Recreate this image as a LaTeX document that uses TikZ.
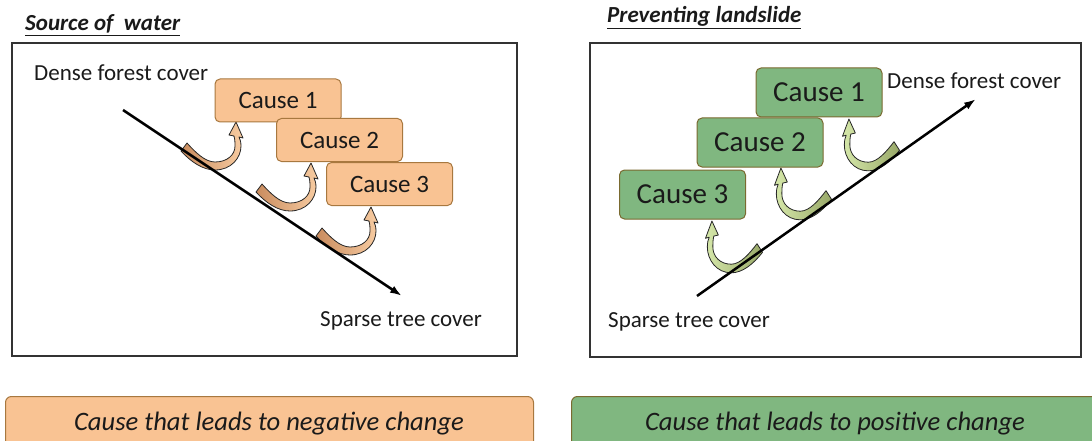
\documentclass[tikz,border=0pt]{standalone}
\usepackage{fontspec}
\setmainfont{Carlito}
\usetikzlibrary{arrows.meta}
\definecolor{orfill}{HTML}{F9C393}
\definecolor{ordraw}{HTML}{A8783F}
\definecolor{grfill}{HTML}{80B780}
\definecolor{grdraw}{HTML}{7A6A30}
\definecolor{ordark}{HTML}{C98C5E}
\definecolor{orlight}{HTML}{F8CCA2}
\definecolor{grdark}{HTML}{98A868}
\definecolor{grlight}{HTML}{D6E8AA}
\definecolor{txt}{HTML}{1A1A1A}
\tikzset{
  panel/.style={draw=black!80, line width=1.3},
  causebox/.style={rounded corners=5, line width=1, text=txt, inner sep=0},
  lcause/.style={causebox, draw=ordraw, fill=orfill, minimum width=126, minimum height=43, font=\fontsize{25}{29}\selectfont},
  rcause/.style={causebox, draw=grdraw, fill=grfill, minimum width=126, minimum height=49, font=\fontsize{29}{33}\selectfont},
  lbl/.style={anchor=base west, inner sep=0, text=txt, font=\fontsize{23}{27}\selectfont},
  ttl/.style={anchor=base west, inner sep=0, text=txt, font=\fontsize{23}{27}\selectfont\bfseries\itshape},
  legend/.style={rounded corners=6, line width=1, anchor=north west, minimum width=528, minimum height=60},
  legtxt/.style={anchor=base, inner sep=0, text=txt, font=\fontsize{26.6}{30}\selectfont\itshape},
  mainline/.style={line width=2.5, -{Latex[length=12,width=8]}},
  pics/carrow/.style 2 args={code={
    \shadedraw[left color=#1, right color=#2, draw=black!85, line width=0.8, line join=round]
      (-56,29) .. controls (-46,40) and (-34,48) .. (-22,48)
      .. controls (-6,48) and (4,36) .. (4,24)
      .. controls (4,20) and (3,17) .. (2,15)
      -- (6,16) -- (-1,0) -- (-8,13) -- (-3,14)
      .. controls (-2,18) and (-2,21) .. (-2,24)
      .. controls (-2,33) and (-10,40) .. (-22,40)
      .. controls (-32,40) and (-42,30) .. (-50,21) -- cycle;
  }}
}
\begin{document}
\begin{tikzpicture}[x=1pt,y=-1pt]
\useasboundingbox (0,0) rectangle (1092,441);
\clip (0,0) rectangle (1092,441);

% ---------- left panel ----------
\node[ttl] (t1) at (25,31) {\underline{Source of\ \ water}};
\draw[panel] (12,43) rectangle (517,356);
\node[lbl] (ld) at (34,80.5) {Dense forest cover};
\node[lbl] (ls) at (320,326) {Sparse tree cover};
\pic at (237,122) {carrow={ordark}{orlight}};
\pic at (312,163) {carrow={ordark}{orlight}};
\pic at (372,207) {carrow={ordark}{orlight}};
\coordinate (la) at (123,110);
\coordinate (lb) at (402,296);
\draw[mainline] (la) -- (lb);
\node[lcause] (lc1) at (278,100.5) {Cause 1};
\node[lcause] (lc2) at (339.5,140) {Cause 2};
\node[lcause] (lc3) at (389.5,184) {Cause 3};

% ---------- right panel ----------
\node[ttl] (t2) at (607,22.5) {\underline{Preventing landslide}};
\draw[panel] (590,43) rectangle (1081,357);
\node[lbl] (rd) at (887,89) {Dense forest cover};
\node[lbl] (rs) at (608,327) {Sparse tree cover};
\pic[xscale=-0.92, yscale=1.08] at (848,119) {carrow={grlight}{grdark}};
\pic[xscale=-0.92, yscale=1.08] at (780,168) {carrow={grlight}{grdark}};
\pic[xscale=-0.92, yscale=1.08] at (711,221) {carrow={grlight}{grdark}};
\coordinate (ra) at (697,296);
\coordinate (rb) at (976,99);
\draw[mainline] (ra) -- (rb);
\node[rcause] (rc1) at (819,92.5) {Cause 1};
\node[rcause] (rc2) at (760,142.5) {Cause 2};
\node[rcause] (rc3) at (682.5,194.5) {Cause 3};

% ---------- legend ----------
\node[legend, draw=ordraw, fill=orfill] (lg1) at (5,396) {};
\node[legend, draw=grdraw, fill=grfill] (lg2) at (571,396) {};
\node[legtxt] (lt1) at (269,430) {Cause that leads to negative change};
\node[legtxt] (lt2) at (835,430) {Cause that leads to positive change};
\end{tikzpicture}
\end{document}
